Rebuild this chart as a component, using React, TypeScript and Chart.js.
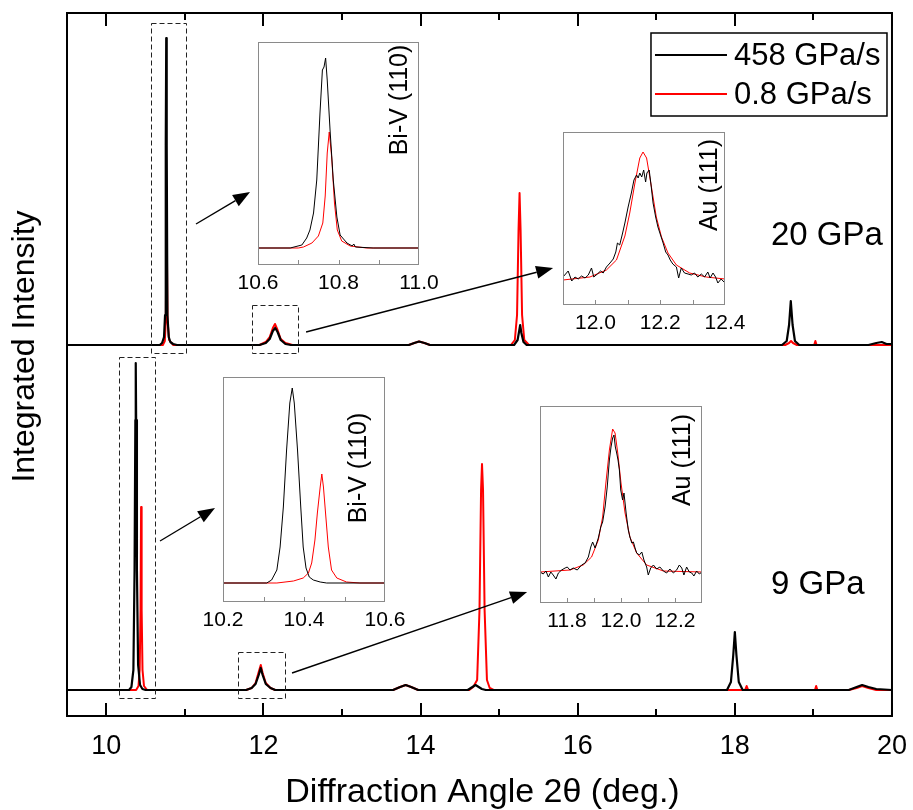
import React, { useEffect, useRef } from "react";
import { Chart, registerables } from "chart.js";

Chart.register(...registerables);

type Pt = [number, number];

const FONT = "'Liberation Sans', Arial, Helvetica, sans-serif";
const BLACK = "#000000";
const RED = "#ff0000";
const INSET_EDGE = "#8a8a8a";

// ---- main panel axes ----
const X_MIN = 9.5;
const X_MAX = 20;
const X_LABEL_TICKS = [10, 12, 14, 16, 18, 20];
const X_MINOR_TICKS = [11, 13, 15, 17, 19];
const Y_MAX = 703;

const X_TITLE = "Diffraction Angle 2\u03b8 (deg.)";
const Y_TITLE = "Integrated Intensity";
const SERIES_LABELS = ["458 GPa/s", "0.8 GPa/s"];
const PRESSURE_LABELS = ["20 GPa", "9 GPa"];
// stacking offsets of the two patterns (20 GPa above, 9 GPa below)
const STACK_OFFSETS = [371, 26];

// ---- 20 GPa patterns (2θ, intensity above baseline) ----
const fast20: Pt[] = [
  [9.5, 0], [10.68, 0], [10.71, 2], [10.735, 8], [10.748, 30], [10.757, 200], [10.763, 307],
  [10.769, 200], [10.778, 30], [10.795, 8], [10.815, 3], [10.85, 1], [10.9, 0],
  [11.95, 0], [12.03, 2], [12.08, 6], [12.12, 14], [12.15, 17], [12.18, 13], [12.22, 5], [12.28, 1], [12.35, 0],
  [13.85, 0], [13.92, 2], [13.98, 3.5], [14.05, 2], [14.12, 0],
  [15.19, 0], [15.235, 5], [15.255, 14], [15.268, 20], [15.283, 12], [15.31, 3], [15.35, 0],
  [18.6, 0], [18.66, 4], [18.69, 20], [18.712, 44], [18.735, 20], [18.765, 4], [18.82, 0],
  [19.7, 0], [19.8, 2], [19.87, 3], [19.93, 1], [20, 1],
];
const slow20: Pt[] = [
  [9.5, 0], [10.72, 0], [10.745, 4], [10.758, 25], [10.764, 110], [10.768, 158], [10.772, 110],
  [10.779, 25], [10.8, 5], [10.85, 0],
  [11.95, 0], [12.03, 3], [12.08, 8], [12.12, 17], [12.147, 21], [12.18, 15], [12.22, 6], [12.28, 2], [12.37, 0],
  [13.85, 0], [13.92, 2], [13.98, 3.5], [14.05, 2], [14.12, 0],
  [15.15, 0], [15.2, 5], [15.228, 30], [15.247, 115], [15.26, 152], [15.273, 115], [15.292, 30], [15.32, 5], [15.38, 0],
  [18.64, 0], [18.69, 2], [18.715, 4], [18.74, 2], [18.79, 0],
  [19.01, 0], [19.025, 4], [19.04, 0], [20, 0],
];

// ---- 9 GPa patterns ----
const fast9: Pt[] = [
  [9.5, 0], [10.29, 0], [10.32, 3], [10.345, 20], [10.36, 120], [10.37, 270], [10.375, 327],
  [10.38, 270], [10.39, 120], [10.405, 25], [10.43, 5], [10.46, 1], [10.5, 0],
  [11.78, 0], [11.85, 2], [11.9, 6], [11.94, 15], [11.966, 22], [11.99, 15], [12.03, 6], [12.09, 2], [12.15, 0],
  [13.65, 0], [13.74, 3], [13.81, 5], [13.88, 3], [13.97, 0],
  [14.6, 0], [14.66, 3], [14.7, 5], [14.74, 3], [14.78, 1], [14.83, 0],
  [17.9, 0], [17.95, 8], [17.98, 35], [18.0, 58], [18.02, 35], [18.05, 8], [18.1, 0],
  [19.45, 0], [19.55, 3], [19.62, 5], [19.7, 3], [19.8, 1], [20, 0],
];
const slow9: Pt[] = [
  [9.5, 0], [10.38, 0], [10.41, 4], [10.425, 20], [10.436, 80], [10.443, 183], [10.45, 80],
  [10.461, 20], [10.48, 4], [10.52, 0],
  [11.78, 0], [11.85, 2], [11.9, 7], [11.94, 18], [11.966, 25], [11.99, 17], [12.03, 7], [12.09, 2], [12.15, 0],
  [13.65, 0], [13.74, 3], [13.81, 5], [13.88, 3], [13.97, 0],
  [14.62, 0], [14.67, 3], [14.72, 10], [14.75, 80], [14.77, 200], [14.782, 226], [14.795, 200],
  [14.815, 80], [14.845, 10], [14.88, 2], [14.93, 0],
  [18.13, 0], [18.15, 4], [18.17, 0],
  [19.02, 0], [19.035, 4], [19.05, 0],
  [19.45, 0], [19.55, 2], [19.62, 4], [19.7, 2], [19.8, 0], [20, 0],
];

// ---- zoomed peaks ----
const biv20Fast: Pt[] = [
  [10.6, 0], [10.68, 0], [10.709, 3], [10.721, 10], [10.729, 18], [10.738, 35], [10.746, 68],
  [10.754, 135], [10.76, 178], [10.764, 181], [10.768, 190], [10.772, 168], [10.779, 118],
  [10.787, 68], [10.796, 31], [10.804, 13], [10.821, 5], [10.834, 2], [10.838, 4], [10.842, 1],
  [10.886, 0], [11.0, 0],
];
const biv20Slow: Pt[] = [
  [10.6, 0], [10.7, 0], [10.713, 1], [10.734, 5], [10.75, 12], [10.761, 25], [10.767, 52],
  [10.772, 95], [10.777, 116], [10.783, 91], [10.79, 45], [10.797, 18], [10.808, 7],
  [10.829, 2], [10.87, 0], [11.0, 0],
];
const au20Fast: Pt[] = [
  [11.9, 3], [11.903, 3], [11.916, 9], [11.927, -1], [11.937, 3], [11.947, 1], [11.957, 4],
  [11.968, 2], [11.978, 5], [11.988, 12], [11.995, 3], [12.006, 6], [12.016, 9], [12.024, 7],
  [12.034, 13], [12.045, 17], [12.055, 21], [12.063, 28], [12.068, 37], [12.075, 35],
  [12.084, 47], [12.091, 57], [12.101, 73], [12.111, 87], [12.119, 100], [12.127, 105],
  [12.132, 102], [12.137, 107], [12.143, 103], [12.149, 110], [12.155, 98], [12.159, 107],
  [12.166, 110], [12.171, 97], [12.178, 77], [12.186, 63], [12.193, 53], [12.201, 45],
  [12.209, 37], [12.217, 28], [12.224, 25], [12.231, 20], [12.239, 16], [12.25, 13],
  [12.257, 2], [12.265, 12], [12.275, 7], [12.286, 6], [12.296, 5], [12.306, 7], [12.316, 3],
  [12.327, 6], [12.337, 3], [12.347, 8], [12.354, 2], [12.363, 7], [12.371, 3], [12.378, -3],
  [12.388, 1], [12.4, -3],
];
const au20Slow: Pt[] = [
  [11.9, 0], [11.983, 3], [12.034, 10], [12.065, 20], [12.091, 44], [12.106, 67], [12.122, 97],
  [12.137, 122], [12.147, 128], [12.158, 122], [12.173, 93], [12.188, 63], [12.204, 43],
  [12.224, 27], [12.25, 15], [12.291, 7], [12.342, 3], [12.4, 1],
];
const biv9Fast: Pt[] = [
  [10.2, 0], [10.308, 0], [10.32, 3], [10.333, 13], [10.341, 36], [10.349, 76], [10.357, 133],
  [10.365, 180], [10.371, 195], [10.376, 180], [10.384, 133], [10.392, 76], [10.398, 36],
  [10.405, 15], [10.413, 6], [10.423, 3], [10.44, 1], [10.456, 0], [10.6, 0],
];
const biv9Slow: Pt[] = [
  [10.2, 0], [10.333, 0], [10.374, 2], [10.398, 5], [10.411, 10], [10.419, 20], [10.427, 43],
  [10.433, 70], [10.44, 96], [10.444, 109], [10.448, 96], [10.454, 66], [10.46, 36],
  [10.468, 13], [10.481, 5], [10.505, 1], [10.538, 0], [10.6, 0],
];
const au9Fast: Pt[] = [
  [11.7, 0], [11.702, 0], [11.712, -2], [11.722, 1], [11.731, -5], [11.74, 0], [11.749, -3],
  [11.759, -7], [11.768, -1], [11.78, 2], [11.793, 4], [11.801, 5], [11.811, 2], [11.823, 4],
  [11.838, 2], [11.854, 7], [11.867, 9], [11.879, 15], [11.888, 25], [11.895, 30], [11.904, 24],
  [11.916, 34], [11.925, 45], [11.932, 50], [11.941, 65], [11.949, 85], [11.957, 112],
  [11.963, 125], [11.969, 134], [11.974, 137], [11.979, 125], [11.984, 119], [11.989, 112],
  [11.994, 102], [11.999, 82], [12.006, 72], [12.011, 79], [12.019, 59], [12.027, 42],
  [12.033, 35], [12.04, 29], [12.046, 30], [12.052, 24], [12.058, 19], [12.068, 17],
  [12.077, 20], [12.085, 12], [12.095, 5], [12.101, -3], [12.11, 4], [12.12, 7], [12.132, 3],
  [12.144, 5], [12.157, 1], [12.169, -1], [12.181, 3], [12.194, -1], [12.206, 2], [12.216, 7],
  [12.225, 4], [12.233, -3], [12.243, 5], [12.253, 0], [12.262, -1], [12.27, -4], [12.28, 1],
  [12.29, -2], [12.3, 0],
];
const au9Slow: Pt[] = [
  [11.7, 0], [11.811, 2], [11.86, 7], [11.891, 15], [11.916, 32], [11.932, 55], [11.944, 89],
  [11.957, 122], [11.969, 143], [11.978, 139], [11.988, 119], [12.0, 89], [12.015, 59],
  [12.033, 35], [12.058, 19], [12.095, 7], [12.157, 1], [12.3, 0],
];

const INSET_TITLES = ["Bi-V (110)", "Au (111)"];

// ---- annotation geometry (data coordinates of the main panel) ----
// dashed frames: [x0, x1, y0, y1]
const ZOOM_FRAMES: [number, number, number, number][] = [
  [10.566, 11.01, 363, 693],
  [11.86, 12.445, 363, 411],
  [10.162, 10.62, 18, 359],
  [11.68, 12.275, 18, 64],
];
// arrows: [xFrom, yFrom, xTo, yTo]
const ZOOM_ARROWS: [number, number, number, number][] = [
  [11.142, 492, 11.83, 524],
  [12.543, 384, 15.687, 448],
  [10.684, 175, 11.384, 208],
  [12.364, 43, 15.356, 124],
];
const PRESSURE_ANCHORS: Pt[] = [[18.46, 480], [18.46, 131]];

type InsetSpec = {
  box: [number, number, number, number]; // left, top, right, bottom (page px)
  xRange: [number, number];
  yRange: [number, number];
  labels: number[];
  ticks: number[];
  title: string;
  titleAt: [number, number]; // offset from right edge, offset from top edge
  fast: Pt[];
  slow: Pt[];
};

const INSETS: InsetSpec[] = [
  {
    box: [258, 42, 419, 265], xRange: [10.6, 11.0], yRange: [-17, 206],
    labels: [10.6, 10.8, 11.0], ticks: [10.7, 10.8, 10.9],
    title: INSET_TITLES[0], titleAt: [19, 58], fast: biv20Fast, slow: biv20Slow,
  },
  {
    box: [563, 132, 725, 305], xRange: [11.9, 12.4], yRange: [-25, 148],
    labels: [12.0, 12.2, 12.4], ticks: [12.0, 12.1, 12.2, 12.3],
    title: INSET_TITLES[1], titleAt: [15, 53], fast: au20Fast, slow: au20Slow,
  },
  {
    box: [223, 377, 385, 602], xRange: [10.2, 10.6], yRange: [-19, 206],
    labels: [10.2, 10.4, 10.6], ticks: [10.3, 10.4, 10.5],
    title: INSET_TITLES[0], titleAt: [26, 91], fast: biv9Fast, slow: biv9Slow,
  },
  {
    box: [540, 406, 702, 603], xRange: [11.7, 12.3], yRange: [-31, 166],
    labels: [11.8, 12.0, 12.2], ticks: [11.8, 11.9, 12.0, 12.1, 12.2],
    title: INSET_TITLES[1], titleAt: [19, 54], fast: au9Fast, slow: au9Slow,
  },
];

const toXY = (pts: Pt[], offset = 0) => pts.map(([x, y]) => ({ x, y: y + offset }));

function drawArrow(ctx: CanvasRenderingContext2D, x0: number, y0: number, x1: number, y1: number) {
  const ang = Math.atan2(y1 - y0, x1 - x0);
  const hl = 17;
  const hw = 6.5;
  const bx = x1 - hl * Math.cos(ang);
  const by = y1 - hl * Math.sin(ang);
  ctx.beginPath();
  ctx.moveTo(x0, y0);
  ctx.lineTo(bx, by);
  ctx.stroke();
  ctx.beginPath();
  ctx.moveTo(x1, y1);
  ctx.lineTo(bx + hw * Math.sin(ang), by - hw * Math.cos(ang));
  ctx.lineTo(bx - hw * Math.sin(ang), by + hw * Math.cos(ang));
  ctx.closePath();
  ctx.fill();
}

const mainDecor = {
  id: "mainDecor",
  afterDraw(chart: any) {
    const { ctx, chartArea: a } = chart;
    const xs = chart.scales.x;
    const ys = chart.scales.y;
    ctx.save();

    // inward tick marks on bottom and top edges
    ctx.strokeStyle = BLACK;
    ctx.lineWidth = 2;
    const tick = (v: number, len: number) => {
      const px = Math.round(xs.getPixelForValue(v));
      ctx.beginPath();
      ctx.moveTo(px, a.bottom);
      ctx.lineTo(px, a.bottom - len);
      ctx.moveTo(px, a.top);
      ctx.lineTo(px, a.top + len);
      ctx.stroke();
    };
    X_LABEL_TICKS.forEach((v) => tick(v, 13));
    X_MINOR_TICKS.forEach((v) => tick(v, 7));
    ctx.strokeRect(a.left, a.top, a.right - a.left, a.bottom - a.top);

    // dashed frames around zoomed peaks
    ctx.lineWidth = 1;
    ctx.strokeStyle = "#222";
    ctx.setLineDash([5, 3]);
    ZOOM_FRAMES.forEach(([x0, x1, y0, y1]) => {
      const l = Math.round(xs.getPixelForValue(x0)) + 0.5;
      const r = Math.round(xs.getPixelForValue(x1)) + 0.5;
      const t = Math.round(ys.getPixelForValue(y1)) + 0.5;
      const b = Math.round(ys.getPixelForValue(y0)) + 0.5;
      ctx.strokeRect(l, t, r - l, b - t);
    });
    ctx.setLineDash([]);

    // arrows pointing to the zoomed views
    ctx.lineWidth = 1.4;
    ctx.strokeStyle = BLACK;
    ctx.fillStyle = BLACK;
    ZOOM_ARROWS.forEach(([xa, ya, xb, yb]) =>
      drawArrow(ctx, xs.getPixelForValue(xa), ys.getPixelForValue(ya), xs.getPixelForValue(xb), ys.getPixelForValue(yb))
    );

    // pressure labels
    ctx.font = `33px ${FONT}`;
    ctx.textAlign = "left";
    ctx.textBaseline = "middle";
    PRESSURE_LABELS.forEach((txt, i) => {
      const [px, py] = PRESSURE_ANCHORS[i];
      ctx.fillText(txt, xs.getPixelForValue(px), ys.getPixelForValue(py));
    });

    // legend
    const lr = a.right - 5;
    const lt = a.top + 20;
    const lw = 236;
    const lh = 83;
    ctx.lineWidth = 1.5;
    ctx.strokeStyle = BLACK;
    ctx.strokeRect(lr - lw, lt, lw, lh);
    ctx.font = `31px ${FONT}`;
    [BLACK, RED].forEach((c, i) => {
      const yy = lt + 22 + i * 39;
      ctx.strokeStyle = c;
      ctx.lineWidth = 2;
      ctx.beginPath();
      ctx.moveTo(lr - lw + 4, yy);
      ctx.lineTo(lr - lw + 76, yy);
      ctx.stroke();
      ctx.fillStyle = BLACK;
      ctx.fillText(SERIES_LABELS[i], lr - lw + 83, yy + 1);
    });

    // axis titles
    ctx.fillStyle = BLACK;
    ctx.font = `34px ${FONT}`;
    ctx.textAlign = "center";
    ctx.textBaseline = "middle";
    ctx.fillText(X_TITLE, (a.left + a.right) / 2 + 3, chart.height - 17);
    ctx.font = `32px ${FONT}`;
    ctx.save();
    ctx.translate(25, (a.top + a.bottom) / 2 - 18);
    ctx.rotate(-Math.PI / 2);
    ctx.fillText(Y_TITLE, 0, 0);
    ctx.restore();

    ctx.restore();
  },
};

function MainChart() {
  const ref = useRef<HTMLCanvasElement>(null);
  useEffect(() => {
    const line = (pts: Pt[], off: number, color: string, w: number, label: string) => ({
      label,
      data: toXY(pts, off),
      borderColor: color,
      backgroundColor: color,
      borderWidth: w,
      pointRadius: 0,
      tension: 0,
      borderJoinStyle: "round" as const,
    });
    const chart = new Chart(ref.current as HTMLCanvasElement, {
      type: "line",
      data: {
        datasets: [
          line(fast20, STACK_OFFSETS[0], BLACK, 2.2, SERIES_LABELS[0]),
          line(fast9, STACK_OFFSETS[1], BLACK, 2.2, SERIES_LABELS[0]),
          line(slow20, STACK_OFFSETS[0], RED, 2, SERIES_LABELS[1]),
          line(slow9, STACK_OFFSETS[1], RED, 2, SERIES_LABELS[1]),
        ],
      },
      options: {
        responsive: false,
        animation: false,
        events: [],
        layout: { padding: { top: 13, right: 13, left: 0, bottom: 0 } },
        plugins: { legend: { display: false }, tooltip: { enabled: false } },
        scales: {
          x: {
            type: "linear",
            min: X_MIN,
            max: X_MAX,
            grid: { display: false },
            border: { display: false },
            afterBuildTicks: (s: any) => {
              s.ticks = X_LABEL_TICKS.map((value) => ({ value }));
            },
            afterFit: (s: any) => {
              s.height = 94;
            },
            ticks: {
              color: BLACK,
              font: { family: FONT, size: 27 },
              padding: 6,
              maxRotation: 0,
              autoSkip: false,
              callback: (v: any) => String(v),
            },
          },
          y: {
            type: "linear",
            min: 0,
            max: Y_MAX,
            grid: { display: false },
            border: { display: false },
            ticks: { display: false },
            afterFit: (s: any) => {
              s.width = 67;
            },
          },
        },
      },
      plugins: [mainDecor],
    });
    return () => chart.destroy();
  }, []);
  return (
    <canvas
      ref={ref}
      width={913}
      height={810}
      style={{ position: "absolute", left: 0, top: 0, width: 913, height: 810 }}
    />
  );
}

function insetDecor(spec: InsetSpec) {
  return {
    id: "insetDecor",
    beforeDraw(chart: any) {
      const { ctx, chartArea: a } = chart;
      ctx.save();
      ctx.fillStyle = "#ffffff";
      ctx.fillRect(a.left, a.top, a.right - a.left, a.bottom - a.top);
      ctx.restore();
    },
    afterDraw(chart: any) {
      const { ctx, chartArea: a } = chart;
      const xs = chart.scales.x;
      ctx.save();
      ctx.strokeStyle = INSET_EDGE;
      ctx.lineWidth = 1;
      ctx.strokeRect(a.left + 0.5, a.top + 0.5, a.right - a.left - 1, a.bottom - a.top - 1);
      ctx.beginPath();
      spec.ticks.forEach((v) => {
        const px = Math.round(xs.getPixelForValue(v)) + 0.5;
        ctx.moveTo(px, a.bottom);
        ctx.lineTo(px, a.bottom - 5);
      });
      ctx.stroke();
      ctx.fillStyle = BLACK;
      ctx.font = `25px ${FONT}`;
      ctx.textAlign = "center";
      ctx.textBaseline = "middle";
      ctx.translate(a.right - spec.titleAt[0], a.top + spec.titleAt[1]);
      ctx.rotate(-Math.PI / 2);
      ctx.fillText(spec.title, 0, 0);
      ctx.restore();
    },
  };
}

function Inset({ spec }: { spec: InsetSpec }) {
  const ref = useRef<HTMLCanvasElement>(null);
  const [l, t, r, b] = spec.box;
  const padX = 30;
  const padTop = 1;
  const axisH = 36;
  const w = r - l + 2 * padX;
  const h = b - t + padTop + axisH;
  useEffect(() => {
    const chart = new Chart(ref.current as HTMLCanvasElement, {
      type: "line",
      data: {
        datasets: [
          { data: toXY(spec.fast), borderColor: BLACK, borderWidth: 1, pointRadius: 0, tension: 0 },
          { data: toXY(spec.slow), borderColor: RED, borderWidth: 1, pointRadius: 0, tension: 0 },
        ],
      },
      options: {
        responsive: false,
        animation: false,
        events: [],
        layout: { padding: { left: padX, right: padX, top: padTop, bottom: 0 } },
        plugins: { legend: { display: false }, tooltip: { enabled: false } },
        scales: {
          x: {
            type: "linear",
            min: spec.xRange[0],
            max: spec.xRange[1],
            grid: { display: false },
            border: { display: false },
            afterBuildTicks: (s: any) => {
              s.ticks = spec.labels.map((value) => ({ value }));
            },
            afterFit: (s: any) => {
              s.height = axisH;
            },
            ticks: {
              color: BLACK,
              font: { family: FONT, size: 21 },
              padding: -2,
              maxRotation: 0,
              autoSkip: false,
              callback: (v: any) => Number(v).toFixed(1),
            },
          },
          y: { type: "linear", display: false, min: spec.yRange[0], max: spec.yRange[1] },
        },
      },
      plugins: [insetDecor(spec)],
    });
    return () => chart.destroy();
  }, [spec]);
  return (
    <canvas
      ref={ref}
      width={w}
      height={h}
      style={{ position: "absolute", left: l - padX, top: t - padTop, width: w, height: h }}
    />
  );
}

export default function App() {
  return (
    <div style={{ position: "fixed", left: 0, top: 0, width: 913, height: 810, background: "#ffffff" }}>
      <MainChart />
      {INSETS.map((spec, i) => (
        <Inset key={i} spec={spec} />
      ))}
    </div>
  );
}
